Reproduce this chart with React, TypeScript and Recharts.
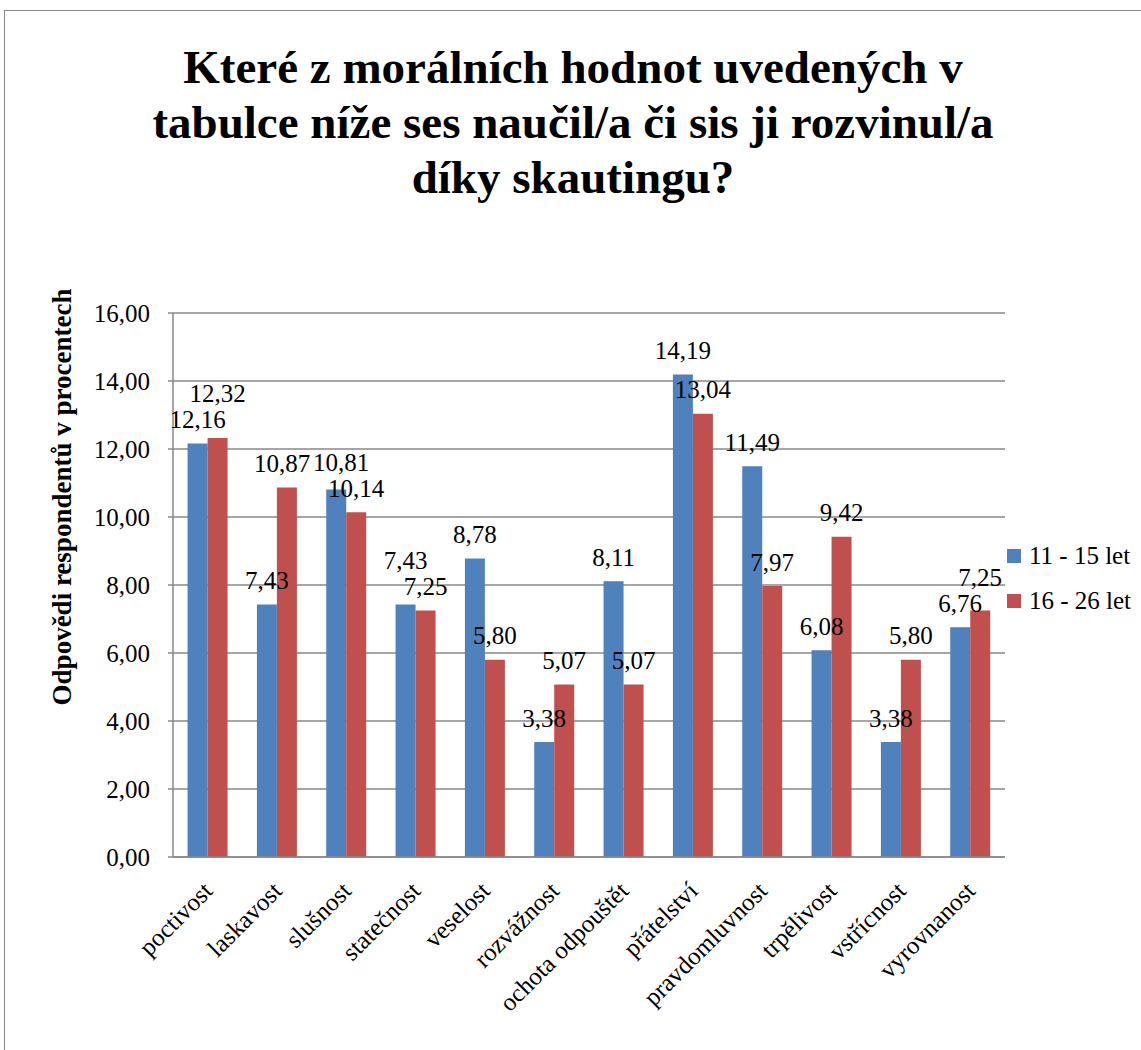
import React from "react";
import { BarChart, Bar, XAxis, YAxis, CartesianGrid, LabelList } from "recharts";

const categories = [
  "poctivost", "laskavost", "slušnost", "statečnost", "veselost", "rozvážnost",
  "ochota odpouštět", "přátelství", "pravdomluvnost", "trpělivost", "vstřícnost", "vyrovnanost",
];
const seriesNames = ["11 - 15 let", "16 - 26 let"];
const age11to15 = [12.16, 7.43, 10.81, 7.43, 8.78, 3.38, 8.11, 14.19, 11.49, 6.08, 3.38, 6.76];
const age16to26 = [12.32, 10.87, 10.14, 7.25, 5.8, 5.07, 5.07, 13.04, 7.97, 9.42, 5.8, 7.25];
const yTicks = [0, 2, 4, 6, 8, 10, 12, 14, 16];
const titleLines = [
  "Které z morálních hodnot uvedených v",
  "tabulce níže ses naučil/a či sis ji rozvinul/a",
  "díky skautingu?",
];
const yLabel = "Odpovědi respondentů v procentech";

const colors = ["#4F81BD", "#C0504D"];
const FONT = "Liberation Serif, Times New Roman, serif";

const data = categories.map((c, i) => ({ name: c, a: age11to15[i], b: age16to26[i] }));
const fmt = (v: any) => Number(v).toFixed(2).replace(".", ",");

// layout constants
const W = 1141;
const H = 1050;
const M_TOP = 313;
const M_RIGHT = 136;
const Y_W = 173;
const X_H = 193;
const GAP = 0.21;
const LABEL_GAP = 24;
const LINE = 26;
const LABEL_W = 57;

// Label collision avoidance (similar to what the spreadsheet does):
// computes offsets relative to the default "above the bar" placement.
const plotW = W - Y_W - M_RIGHT;
const plotH = H - M_TOP - X_H;
const step = plotW / categories.length;
const barW = (step * (1 - 2 * GAP)) / 2;
type Lab = { i: number; s: number; v: number; cx: number; cy: number; cx0: number; cy0: number };
const labs: Lab[] = [];
data.forEach((d, i) => {
  [d.a, d.b].forEach((v, s) => {
    const cx = Y_W + step * (i + GAP) + barW * (s + 0.5);
    const cy = M_TOP + plotH * (1 - v / yTicks[yTicks.length - 1]) - LABEL_GAP;
    labs.push({ i, s, v, cx, cy, cx0: cx, cy0: cy });
  });
});
for (let iter = 0; iter < 20; iter++) {
  let changed = false;
  for (let p = 0; p < labs.length; p++) {
    for (let q = p + 1; q < labs.length; q++) {
      const A = labs[p];
      const B = labs[q];
      const dx = Math.abs(A.cx - B.cx);
      const dy = Math.abs(A.cy - B.cy);
      if (dx < LABEL_W && dy < LINE) {
        if (A.i === B.i) {
          const hi = A.v >= B.v ? A : B;
          const lo = hi === A ? B : A;
          hi.cy = lo.cy - LINE;
        } else {
          const left = A.cx < B.cx ? A : B;
          const right = left === A ? B : A;
          const push = (LABEL_W - dx) / 2 + 1;
          left.cx -= push;
          right.cx += push;
        }
        changed = true;
      }
    }
  }
  if (!changed) break;
}
const offsetOf = (i: number, s: number) => {
  const l = labs.find((x) => x.i === i && x.s === s)!;
  return { dx: l.cx - l.cx0, dy: l.cy - l.cy0 };
};

const makeLabel = (s: number) => (props: any) => {
  const { x, y, width, index, value } = props;
  const o = offsetOf(index, s);
  return (
    <text
      x={x + width / 2 + o.dx}
      y={y - LABEL_GAP + o.dy}
      textAnchor="middle"
      dominantBaseline="central"
      fontSize={25}
      fontFamily={FONT}
      fill="#000"
    >
      {fmt(value)}
    </text>
  );
};

const XTick = (props: any) => {
  const { x, y, payload } = props;
  return (
    <g transform={`translate(${x - 6},${y + 15})`}>
      <text
        textAnchor="end"
        transform="rotate(-45)"
        dy="0.7em"
        fontSize={25}
        fontFamily={FONT}
        fill="#000"
      >
        {payload.value}
      </text>
    </g>
  );
};

const YLabel = () => {
  const cx = 62;
  const cy = 497;
  return (
    <text
      x={cx}
      y={cy}
      transform={`rotate(-90, ${cx}, ${cy})`}
      textAnchor="middle"
      dominantBaseline="central"
      fontSize={27}
      fontWeight="bold"
      fontFamily={FONT}
      fill="#000"
    >
      {yLabel}
    </text>
  );
};

export default function App() {
  return (
    <div
      style={{
        position: "absolute",
        left: 0,
        top: 0,
        width: W,
        height: H,
        overflow: "hidden",
        background: "#fff",
        fontFamily: FONT,
      }}
    >
      <div
        style={{
          position: "absolute",
          left: 4,
          top: 10,
          width: 1200,
          height: 1200,
          border: "1.5px solid #898989",
          boxSizing: "border-box",
        }}
      />
      <div
        style={{
          position: "absolute",
          left: 0,
          width: 1146,
          top: 40,
          textAlign: "center",
          fontWeight: "bold",
          fontSize: 47,
          lineHeight: "55px",
          color: "#000",
          fontFamily: FONT,
        }}
      >
        {titleLines.map((l, i) => (
          <div key={i}>{l}</div>
        ))}
      </div>
      <div style={{ position: "absolute", left: 0, top: 0 }}>
        <BarChart
          width={W}
          height={H}
          data={data}
          margin={{ top: M_TOP, right: M_RIGHT, bottom: 0, left: 0 }}
          barCategoryGap={`${GAP * 100}%`}
          barGap={0}
        >
          <CartesianGrid vertical={false} stroke="#898989" strokeWidth={1.5} />
          <XAxis
            dataKey="name"
            interval={0}
            tickLine={false}
            axisLine={{ stroke: "#898989", strokeWidth: 1.5 }}
            tick={<XTick />}
            height={X_H}
          />
          <YAxis
            width={Y_W}
            domain={[0, 16]}
            ticks={yTicks}
            tickFormatter={fmt}
            interval={0}
            tickSize={5}
            tickMargin={18}
            tickLine={{ stroke: "#898989", strokeWidth: 1.5 }}
            axisLine={{ stroke: "#898989", strokeWidth: 1.5 }}
            tick={{ fontSize: 25, fontFamily: FONT, fill: "#000" }}
            label={<YLabel />}
          />
          <Bar dataKey="a" name={seriesNames[0]} fill={colors[0]} isAnimationActive={false}>
            <LabelList dataKey="a" content={makeLabel(0)} />
          </Bar>
          <Bar dataKey="b" name={seriesNames[1]} fill={colors[1]} isAnimationActive={false}>
            <LabelList dataKey="b" content={makeLabel(1)} />
          </Bar>
        </BarChart>
      </div>
      <div
        style={{
          position: "absolute",
          left: 1007,
          top: 533,
          fontSize: 25,
          color: "#000",
          fontFamily: FONT,
        }}
      >
        {seriesNames.map((n, i) => (
          <div key={i} style={{ display: "flex", alignItems: "center", height: 45 }}>
            <span
              style={{
                display: "inline-block",
                width: 14,
                height: 14,
                background: colors[i],
                marginRight: 8,
              }}
            />
            <span style={{ whiteSpace: "nowrap" }}>{n}</span>
          </div>
        ))}
      </div>
    </div>
  );
}
